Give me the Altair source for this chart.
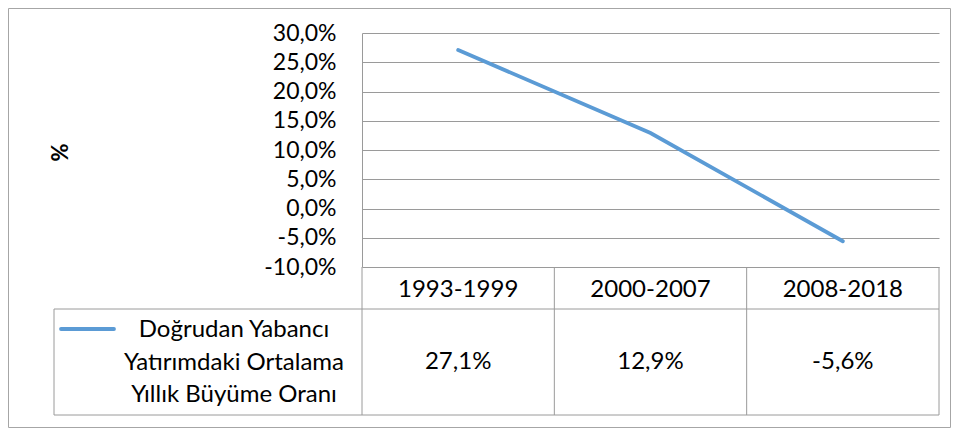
import altair as alt
import pandas as pd

# ---- data ----
periods = ["1993-1999", "2000-2007", "2008-2018"]
growth = [27.1, 12.9, -5.6]
series_lines = ["Doğrudan Yabancı", "Yatırımdaki Ortalama", "Yıllık Büyüme Oranı"]
y_ticks = [-10, -5, 0, 5, 10, 15, 20, 25, 30]

LINE_COLOR = "#5B9BD5"
GRID = "#9a9a9a"
FONT = "Lato"
FS_TICK = 23
FS = 24

W, H = 577, 234          # plot area
HEADER_BOTTOM = H + 42   # header row / value row boundary
TABLE_BOTTOM = H + 148
LEG_LEFT = -308

df = pd.DataFrame({
    "period": periods,
    "growth": growth,
    "pos": [i + 0.5 for i in range(len(periods))],
    "label": [f"{v:.1f}".replace(".", ",") + "%" for v in growth],
})
bounds = pd.DataFrame({"b": list(range(len(periods) + 1))})
one = pd.DataFrame({"k": [0]})

xscale = alt.Scale(domain=[0, len(periods)], nice=False, zero=False)
yscale = alt.Scale(domain=[-10, 30], nice=False, zero=False)

base = alt.Chart(df)

line = base.mark_line(color=LINE_COLOR, strokeWidth=3.8, strokeCap="round", clip=False).encode(
    x=alt.X("pos:Q", scale=xscale, axis=None),
    y=alt.Y(
        "growth:Q",
        scale=yscale,
        axis=alt.Axis(
            values=y_ticks,
            labelExpr="replace(replace(format(datum.value, '.1f'), '.', ','), '\u2212', '-') + '%'",
            grid=True,
            gridColor=GRID,
            gridWidth=1,
            domain=True,
            domainColor=GRID,
            ticks=False,
            labelPadding=26,
            labelFont=FONT,
            labelFontSize=FS_TICK,
            labelColor="#000000",
            title="%",
            titleFont=FONT,
            titleFontSize=22,
            titleFontWeight="bold",
            titleColor="#000000",
            titleAngle=270,
            titleAlign="center",
            titleBaseline="middle",
            titleX=-302,
            titleY=119,
        ),
    ),
)

# table vertical boundaries under each category
vlines = alt.Chart(bounds).mark_rule(color=GRID, strokeWidth=1).encode(
    x=alt.X("b:Q", scale=xscale),
    y=alt.value(H),
    y2=alt.value(TABLE_BOTTOM),
)
leg_left = alt.Chart(one).mark_rule(color=GRID, strokeWidth=1).encode(
    x=alt.value(LEG_LEFT), y=alt.value(HEADER_BOTTOM), y2=alt.value(TABLE_BOTTOM)
)
hline1 = alt.Chart(one).mark_rule(color=GRID, strokeWidth=1).encode(
    x=alt.value(LEG_LEFT), x2=alt.value(W), y=alt.value(HEADER_BOTTOM)
)
hline2 = alt.Chart(one).mark_rule(color=GRID, strokeWidth=1).encode(
    x=alt.value(LEG_LEFT), x2=alt.value(W), y=alt.value(TABLE_BOTTOM)
)

header = base.mark_text(font=FONT, fontSize=FS, color="#000000", baseline="middle").encode(
    x=alt.X("pos:Q", scale=xscale), y=alt.value(H + 23), text="period:N"
)
values = base.mark_text(font=FONT, fontSize=FS, color="#000000", baseline="middle").encode(
    x=alt.X("pos:Q", scale=xscale), y=alt.value(H + 95), text="label:N"
)

leg_symbol = alt.Chart(one).mark_rule(color=LINE_COLOR, strokeWidth=3.8, strokeCap="round").encode(
    x=alt.value(-301), x2=alt.value(-248), y=alt.value(296)
)
leg_text = alt.Chart(one).mark_text(
    font=FONT, fontSize=FS, color="#000000", align="center", baseline="middle",
    lineHeight=32.5, text=series_lines,
).encode(x=alt.value(-128), y=alt.value(297))

border = alt.Chart(one).mark_rect(fill="transparent", stroke="#a6a6a6", strokeWidth=1).encode(
    x=alt.value(-353.5), x2=alt.value(588.5), y=alt.value(-24.5), y2=alt.value(394.5)
)

chart = alt.layer(
    border, line, vlines, leg_left, hline1, hline2, header, values, leg_symbol, leg_text
).properties(
    width=W,
    height=H,
    autosize=alt.AutoSizeParams(type="none"),
    padding={"left": 354, "top": 25, "right": 12, "bottom": 161},
    background="white",
).configure_view(strokeWidth=0)

chart.save("out.html", embed_options={"renderer": "svg", "actions": False})
